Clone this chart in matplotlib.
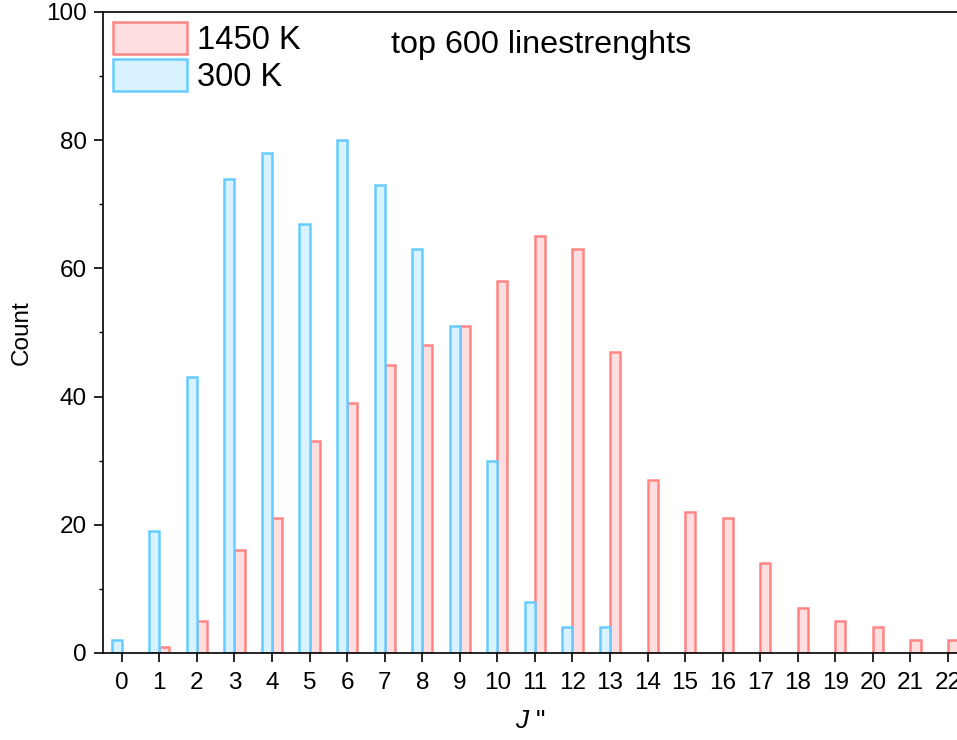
import numpy as np
import matplotlib
matplotlib.use("Agg")
import matplotlib.pyplot as plt
from matplotlib.ticker import MultipleLocator

plt.rcParams['font.family'] = ['Liberation Sans', 'DejaVu Sans']
plt.rcParams['mathtext.fontset'] = 'custom'
plt.rcParams['mathtext.it'] = 'Liberation Sans:italic'
plt.rcParams['mathtext.rm'] = 'Liberation Sans'

# J'' values and line counts (top 600 linestrengths)
j_vals = np.arange(0, 23)
count_300 = [2, 19, 43, 74, 78, 67, 80, 73, 63, 51, 30, 8, 4, 4,
             0, 0, 0, 0, 0, 0, 0, 0, 0]
count_1450 = [0, 1, 5, 16, 21, 33, 39, 45, 48, 51, 58, 65, 63, 47,
              27, 22, 21, 14, 7, 5, 4, 2, 2]

blue_face = '#D8F3FF'
blue_edge = '#66CCFF'
pink_face = '#FFDEDF'
pink_edge = '#FF8585'

fig = plt.figure(figsize=(9.57, 7.4), dpi=100)
ax = fig.add_axes([0.1076, 0.1176, 0.8924, 0.8662])

w = 0.27
c300 = np.array(count_300)
c1450 = np.array(count_1450)
m300 = c300 > 0
m1450 = c1450 > 0
b2 = ax.bar(j_vals[m1450], c1450[m1450], width=w, align='edge',
            color=pink_face, edgecolor=pink_edge, linewidth=1.8, label='1450 K')
b1 = ax.bar(j_vals[m300], c300[m300], width=-w, align='edge',
            color=blue_face, edgecolor=blue_edge, linewidth=1.8, label='300 K')

ax.set_xlim(-0.5, 22.24)
ax.set_ylim(0, 100)
ax.set_xticks(j_vals)
ax.yaxis.set_major_locator(MultipleLocator(20))
ax.yaxis.set_minor_locator(MultipleLocator(10))
ax.tick_params(axis='both', which='major', direction='out', length=6.5,
               width=1.2, labelsize=17.5)
ax.tick_params(axis='x', which='major', pad=7)
ax.tick_params(axis='y', which='major', pad=5)
ax.tick_params(axis='y', which='minor', direction='out', length=3, width=1.0)

for s in ['left', 'bottom', 'top']:
    ax.spines[s].set_linewidth(1.2)
ax.spines['right'].set_visible(False)

ax.set_ylabel('Count', fontsize=17.5, labelpad=10)
ax.set_xlabel(r'$J$ "', fontsize=19, labelpad=11)

leg = ax.legend(handles=[b2, b1], loc='upper left', frameon=False,
                fontsize=23.5, handlelength=2.25, handleheight=1.1,
                labelspacing=0.1, borderaxespad=0.12, handletextpad=0.3,
                borderpad=0.2)

ax.text(0.337, 0.949, 'top 600 linestrenghts', transform=ax.transAxes,
        fontsize=23.3, ha='left', va='center')

fig.savefig('out.png', dpi=100)
